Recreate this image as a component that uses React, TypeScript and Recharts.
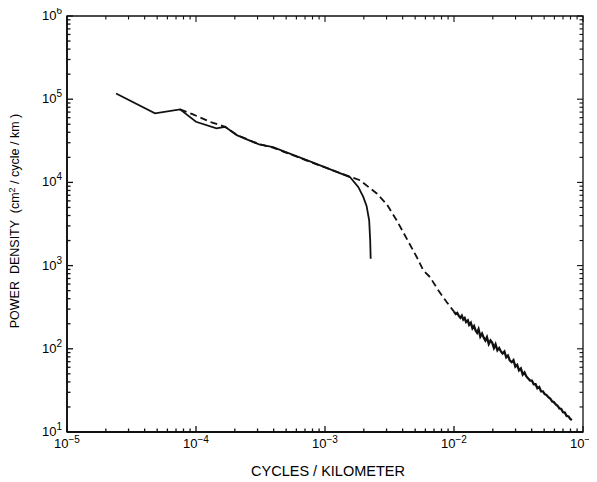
import React from 'react';
import { LineChart, Line, XAxis, YAxis, ReferenceArea } from 'recharts';

// Solid curve (cycles/km, power density)
const solidX = [2.40e-5, 4.81e-5, 7.52e-5, 1.0e-4, 1.44e-4, 1.68e-4, 2.07e-4, 3.08e-4, 3.95e-4, 7.22e-4, 1.56e-3, 1.81e-3, 1.98e-3, 2.10e-3, 2.20e-3, 2.24e-3, 2.26e-3];
const solidY = [1.17e5, 6.75e4, 7.54e4, 5.35e4, 4.46e4, 4.66e4, 3.70e4, 2.86e4, 2.65e4, 1.85e4, 1.16e4, 8.83e3, 6.70e3, 5.21e3, 3.51e3, 2.02e3, 1.21e3];

// Dashed curve
const dashedX = [7.52e-5, 9.48e-5, 1.32e-4, 1.68e-4, 2.07e-4, 3.08e-4, 3.95e-4, 7.22e-4, 1.56e-3, 1.87e-3, 2.52e-3, 3.01e-3, 3.59e-3, 4.30e-3, 5.14e-3, 5.78e-3, 6.51e-3, 7.55e-3, 8.77e-3, 1.0e-2];
const dashedY = [7.54e4, 6.56e4, 5.26e4, 4.66e4, 3.72e4, 2.88e4, 2.62e4, 1.83e4, 1.17e4, 1.06e4, 7.35e3, 5.47e3, 3.51e3, 2.11e3, 1.27e3, 877, 729, 505, 365, 280];

// Noisy high-frequency tail of the dashed curve
const tailX = [1.00e-2, 1.03e-2, 1.06e-2, 1.09e-2, 1.12e-2, 1.15e-2, 1.18e-2, 1.21e-2, 1.24e-2, 1.28e-2, 1.31e-2, 1.35e-2, 1.39e-2, 1.43e-2, 1.47e-2, 1.51e-2, 1.55e-2, 1.60e-2, 1.65e-2, 1.70e-2, 1.75e-2, 1.80e-2, 1.86e-2, 1.92e-2, 1.98e-2, 2.04e-2, 2.10e-2, 2.17e-2, 2.24e-2, 2.31e-2, 2.38e-2, 2.46e-2, 2.54e-2, 2.62e-2, 2.71e-2, 2.80e-2, 2.89e-2, 2.99e-2, 3.09e-2, 3.19e-2, 3.30e-2, 3.41e-2, 3.52e-2, 3.64e-2, 3.76e-2, 3.89e-2, 4.02e-2, 4.15e-2, 4.29e-2, 4.43e-2, 4.58e-2, 4.73e-2, 4.89e-2, 5.05e-2, 5.22e-2, 5.39e-2, 5.57e-2, 5.76e-2, 5.95e-2, 6.15e-2, 6.35e-2, 6.56e-2, 6.78e-2, 7.00e-2, 7.23e-2, 7.47e-2, 7.72e-2, 7.97e-2, 8.20e-2];
const tailY = [280, 262, 270, 248, 236, 250, 224, 234, 210, 220, 194, 206, 176, 188, 166, 156, 172, 140, 152, 136, 126, 138, 114, 126, 118, 102, 113, 96, 102, 93, 88, 93, 79, 83, 72, 69, 73, 61, 64, 55, 58, 49, 52, 46.5, 44, 41.5, 41.5, 37.5, 37.5, 33.5, 34.8, 30.8, 30.8, 28.6, 27.8, 26.2, 25.3, 23.4, 22.8, 21.4, 20.7, 19.2, 18.9, 17.3, 17.1, 15.6, 15.4, 14.4, 13.9];

const xMajor = [1e-5, 1e-4, 1e-3, 1e-2, 1e-1];
const xMajorExp = ['\u22125', '\u22124', '\u22123', '\u22122', '\u22121'];
const yMajor = [1e1, 1e2, 1e3, 1e4, 1e5, 1e6];
const yMajorExp = ['1', '2', '3', '4', '5', '6'];
const minorSteps = [2, 3, 4, 5, 6, 7, 8, 9];

const xLabel = 'CYCLES / KILOMETER';

const zip = (xs: number[], ys: number[]) => xs.map((x, i) => ({ x, y: ys[i] }));
const solidData = zip(solidX, solidY);
const dashedData = zip(dashedX, dashedY);
const tailData = zip(tailX, tailY);

const withMinors = (majors: number[]) => {
  const out: number[] = [];
  majors.forEach((m, i) => {
    out.push(m);
    if (i < majors.length - 1) minorSteps.forEach((s) => out.push(m * s));
  });
  return out;
};
const xTicks = withMinors(xMajor);
const yTicks = withMinors(yMajor);

const majorIndex = (v: number, majors: number[]) =>
  majors.findIndex((m) => Math.abs(Math.log10(v) - Math.log10(m)) < 1e-6);

const FONT = '"Liberation Sans", Arial, Helvetica, sans-serif';
const INK = '#111';

// plot frame edges in chart pixels (matches chart margins below)
const FRAME = { left: 67, right: 583, top: 16, bottom: 432 };

const BottomTick = (props: any) => {
  const { x, payload } = props;
  const mi = majorIndex(payload.value, xMajor);
  const len = mi >= 0 ? 6 : 3.5;
  return (
    <g>
      <rect x={x - 0.65} y={FRAME.bottom - len} width={1.3} height={len} fill={INK} />
      <rect x={x - 0.55} y={FRAME.top} width={1.1} height={len} fill={INK} />
      {mi >= 0 && (
        <text x={x} y={FRAME.bottom + 16} textAnchor="middle" fontSize={13} fill="#000" fontFamily={FONT}>
          10<tspan dy={-5} fontSize={10}>{xMajorExp[mi]}</tspan>
        </text>
      )}
    </g>
  );
};

const LeftTick = (props: any) => {
  const { y, payload } = props;
  const mi = majorIndex(payload.value, yMajor);
  const len = mi >= 0 ? 6 : 3.5;
  return (
    <g>
      <rect x={FRAME.left} y={y - 0.65} width={len} height={1.3} fill={INK} />
      <rect x={FRAME.right - len} y={y - 0.55} width={len} height={1.1} fill={INK} />
      {mi >= 0 && (
        <text x={FRAME.left - 5} y={y + 4} textAnchor="end" fontSize={13} fill="#000" fontFamily={FONT}>
          10<tspan dy={-6} fontSize={10}>{yMajorExp[mi]}</tspan>
        </text>
      )}
    </g>
  );
};

const YTitle = () => (
  <text
    transform="translate(19, 221) rotate(-90)"
    textAnchor="middle"
    fontSize={12.5}
    fill="#000"
    fontFamily={FONT}
    style={{ whiteSpace: 'pre' }}
  >
    {'POWER  DENSITY  (cm'}
    <tspan dy={-4} fontSize={9}>2</tspan>
    <tspan dy={4}>{' / cycle / km )'}</tspan>
  </text>
);

const XTitle = () => (
  <text x={328} y={476} textAnchor="middle" fontSize={14.5} fill="#000" fontFamily={FONT}>
    {xLabel}
  </text>
);

export default function App() {
  return (
    <div style={{ marginTop: -8, marginLeft: -8, width: 597, height: 482 }}>
      <LineChart width={597} height={482} margin={{ top: 16, right: 14, bottom: 0, left: 0 }}>
        <ReferenceArea
          x1={1e-5}
          x2={1e-1}
          y1={1e1}
          y2={1e6}
          fill="none"
          stroke={INK}
          strokeWidth={1.3}
          ifOverflow="visible"
        />
        <XAxis
          dataKey="x"
          type="number"
          scale="log"
          domain={[1e-5, 1e-1]}
          allowDataOverflow
          ticks={xTicks}
          interval={0}
          height={50}
          tickLine={false}
          tick={<BottomTick />}
          stroke={INK}
          axisLine={{ stroke: INK, strokeWidth: 1.8 }}
          label={<XTitle />}
        />
        <YAxis
          type="number"
          scale="log"
          domain={[1e1, 1e6]}
          allowDataOverflow
          ticks={yTicks}
          interval={0}
          width={67}
          tickLine={false}
          tick={<LeftTick />}
          stroke={INK}
          axisLine={{ stroke: INK, strokeWidth: 1.8 }}
          label={<YTitle />}
        />
        <Line
          data={dashedData}
          dataKey="y"
          type="linear"
          stroke={INK}
          strokeWidth={1.8}
          strokeDasharray="7 4"
          dot={false}
          isAnimationActive={false}
        />
        <Line
          data={tailData}
          dataKey="y"
          type="linear"
          stroke={INK}
          strokeWidth={2.3}
          dot={false}
          isAnimationActive={false}
        />
        <Line
          data={solidData}
          dataKey="y"
          type="linear"
          stroke={INK}
          strokeWidth={1.8}
          dot={false}
          isAnimationActive={false}
        />
      </LineChart>
    </div>
  );
}
